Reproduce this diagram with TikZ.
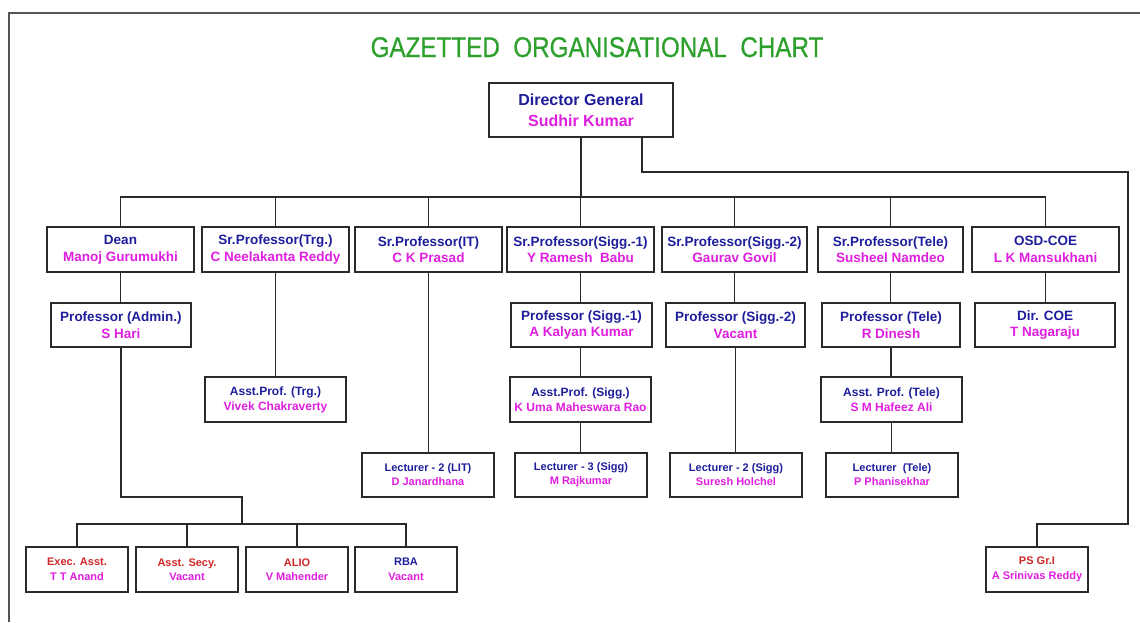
\documentclass[tikz,border=0pt]{standalone}
\usepackage{fontspec}
\setmainfont{Liberation Sans}
\newfontfamily\titlefont[FakeStretch=0.85,FakeBold=0.6]{Liberation Sans}
\definecolor{tblue}{HTML}{1E1E9C}
\definecolor{tmag}{HTML}{E01EE0}
\definecolor{tred}{HTML}{D02828}
\definecolor{tgreen}{HTML}{2EA02E}
\definecolor{frame}{HTML}{555555}
\definecolor{edge}{HTML}{2A2A2A}
\newcommand\roleB[1]{\textcolor{tblue}{#1}}
\newcommand\roleR[1]{\textcolor{tred}{#1}}
\newcommand\nameM[1]{\textcolor{tmag}{#1}}
\begin{document}
\begin{tikzpicture}[x=1pt,y=-1pt,
  box/.style={draw=edge, line width=1.8pt, fill=white, align=center, inner sep=0pt},
  big/.style={box, font=\bfseries\fontsize{16}{21}\selectfont},
  rowA/.style={box, minimum height=45, font=\bfseries\fontsize{13.5}{16.5}\selectfont},
  rowB/.style={box, minimum height=44, font=\bfseries\fontsize{13.5}{16.5}\selectfont},
  rowC/.style={box, minimum height=45, font=\bfseries\fontsize{12}{15}\selectfont},
  rowD/.style={box, minimum height=44, font=\bfseries\fontsize{11}{14}\selectfont},
  rowE/.style={box, minimum height=45, minimum width=102, font=\bfseries\fontsize{11}{14.5}\selectfont},
  link/.style={draw=edge, line width=1.5pt},
  framel/.style={draw=frame, line width=2.2pt}
]
\useasboundingbox (0,0) rectangle (1140,622);
\draw[framel] (9,622) -- (9,13) -- (1140,13);

\node[font=\titlefont\fontsize{28.5}{30}\selectfont, text=tgreen, anchor=base] (title) at (597,57) {GAZETTED~~ORGANISATIONAL~~CHART};

\node[big, minimum width=184, minimum height=54] (dg) at (581,110) {\roleB{Director General}\\\nameM{Sudhir Kumar}};

% top row
\node[rowA, minimum width=147] (dean) at (120.5,249.5) {\roleB{Dean}\\\nameM{Manoj Gurumukhi}};
\node[rowA, minimum width=147] (trg) at (275.5,249.5) {\roleB{Sr.Professor(Trg.)}\\\nameM{C Neelakanta Reddy}};
\node[rowA, minimum width=147] (it) at (428.5,249.5) {\roleB{Sr.Professor(IT)}\\\nameM{C K Prasad}};
\node[rowA, minimum width=147] (sa) at (580.5,249.5) {\roleB{Sr.Professor(Sigg.-1)}\\\nameM{Y Ramesh~~Babu}};
\node[rowA, minimum width=145] (sb) at (734.5,249.5) {\roleB{Sr.Professor(Sigg.-2)}\\\nameM{Gaurav Govil}};
\node[rowA, minimum width=145] (tele) at (890.5,249.5) {\roleB{Sr.Professor(Tele)}\\\nameM{Susheel Namdeo}};
\node[rowA, minimum width=147] (osd) at (1045.5,249.5) {\roleB{OSD-COE}\\\nameM{L K Mansukhani}};

% second row
\node[rowB, minimum width=140] (admin) at (121,325) {\roleB{Professor (Admin.)}\\\nameM{S Hari}};
\node[rowB, minimum width=141] (pa) at (581.5,325) {\roleB{Professor (Sigg.-1)}\\\nameM{A Kalyan Kumar}};
\node[rowB, minimum width=139] (pb) at (735.5,325) {\roleB{Professor (Sigg.-2)}\\\nameM{Vacant}};
\node[rowB, minimum width=138] (pt) at (891,325) {\roleB{Professor (Tele)}\\\nameM{R Dinesh}};
\node[rowB, minimum width=140] (dcoe) at (1045,325) {\roleB{Dir. COE}\\\nameM{T Nagaraju}};

% third row
\node[rowC, minimum width=141] (atrg) at (275.5,399.5) {\roleB{Asst.Prof. (Trg.)}\\\nameM{Vivek Chakraverty}};
\node[rowC, minimum width=141] (asig) at (580.5,399.5) {\roleB{Asst.Prof. (Sigg.)}\\\nameM{K Uma Maheswara Rao}};
\node[rowC, minimum width=141] (atele) at (891.5,399.5) {\roleB{Asst. Prof. (Tele)}\\\nameM{S M Hafeez Ali}};

% fourth row
\node[rowD, minimum width=132] (lit) at (428,475) {\roleB{Lecturer - 2 (LIT)}\\\nameM{D Janardhana}};
\node[rowD, minimum width=132] (lsa) at (581,475) {\roleB{Lecturer - 3 (Sigg)}\\\nameM{M Rajkumar}};
\node[rowD, minimum width=132] (lsb) at (736,475) {\roleB{Lecturer - 2 (Sigg)}\\\nameM{Suresh Holchel}};
\node[rowD, minimum width=132] (ltele) at (892,475) {\roleB{Lecturer~~(Tele)}\\\nameM{P Phanisekhar}};

% bottom row
\node[rowE] (exec) at (77,569.5) {\roleR{Exec. Asst.}\\\nameM{T T Anand}};
\node[rowE] (secy) at (187,569.5) {\roleR{Asst. Secy.}\\\nameM{Vacant}};
\node[rowE] (alio) at (297,569.5) {\roleR{ALIO}\\\nameM{V Mahender}};
\node[rowE] (rba) at (406,569.5) {\roleB{RBA}\\\nameM{Vacant}};
\node[rowE] (psgr) at (1037,569.5) {\roleR{PS Gr.I}\\\nameM{A Srinivas Reddy}};

% connectors
\coordinate (busL) at (120.5,197);
\coordinate (busR) at (1045.5,197);
\coordinate (rtop) at (1128,172);
\coordinate (rbot) at (1128,524);
\coordinate (jA) at (242,497);
\coordinate (jB) at (242,524);

\draw[link] (dg.south) -- (dg.south |- busL);
\draw[link] (dean.north) |- (busR) -- (osd.north);
\foreach \n in {trg,it,sa,sb,tele} \draw[link] (\n.north) -- (\n.north |- busL);
\draw[link] ([xshift=61]dg.south) |- (rtop) -- (rbot) -| (psgr.north);

\draw[link] (dean.south) -- (dean.south |- admin.north);
\draw[link] (admin.south) |- (jA) -- (jB);
\draw[link] (exec.north) |- (rba.north |- jB) -- (rba.north);
\draw[link] (secy.north) -- (secy.north |- jB);
\draw[link] (alio.north) -- (alio.north |- jB);

\draw[link] (trg.south) -- (atrg.north);
\draw[link] (it.south) -- (it.south |- lit.north);
\draw[link] (sa.south) -- (sa.south |- pa.north);
\draw[link] (sa.south |- pa.south) -- (sa.south |- asig.north);
\draw[link] (asig.south) -- (asig.south |- lsa.north);
\draw[link] (sb.south) -- (sb.south |- pb.north);
\draw[link] (pb.south) -- (pb.south |- lsb.north);
\draw[link] (tele.south) -- (tele.south |- pt.north);
\draw[link] (pt.south) -- (pt.south |- atele.north);
\draw[link] (atele.south) -- (atele.south |- ltele.north);
\draw[link] (osd.south) -- (osd.south |- dcoe.north);
\end{tikzpicture}
\end{document}
